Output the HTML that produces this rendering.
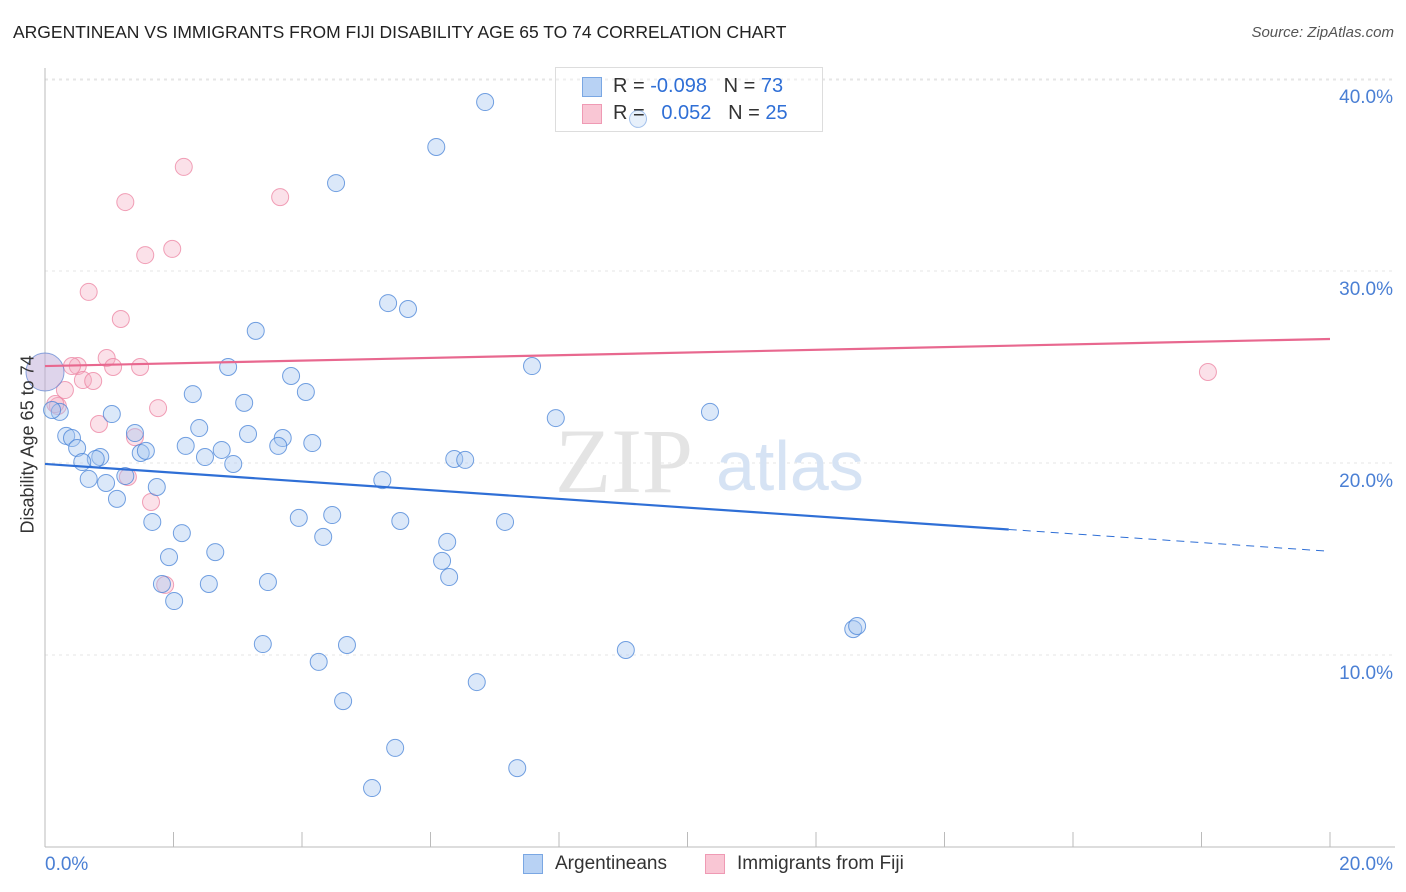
<!DOCTYPE html>
<html><head><meta charset="utf-8">
<style>
body{margin:0;background:#fff;font-family:"Liberation Sans",sans-serif;}
#wrap{position:relative;width:1406px;height:892px;overflow:hidden;}
.t{position:absolute;white-space:nowrap;}
</style></head>
<body>
<div id="wrap">
<div class="t" style="left:13px;top:22px;font-size:17.5px;color:#222;">ARGENTINEAN VS IMMIGRANTS FROM FIJI DISABILITY AGE 65 TO 74 CORRELATION CHART</div>
<div class="t" style="right:12px;top:24px;font-size:15px;color:#555;font-style:italic;">Source: ZipAtlas.com</div>
<svg id="svg" width="1406" height="892" style="position:absolute;left:0;top:0"></svg>
</div>
<script>
const xTicks=[0,2,4,6,8,10,12,14,16,18,20];
const yTicks=[10,20,30,40];
const blueX=[6.85,6.09,4.53,9.23,5.34,5.65,3.28,2.85,7.58,3.83,4.06,2.30,3.10,1.04,7.95,10.35,0.23,0.11,0.33,0.42,2.40,1.40,3.16,3.70,0.50,2.19,2.75,3.63,4.16,0.86,0.79,1.49,1.57,2.49,2.93,0.58,6.37,6.54,1.25,0.68,0.95,1.74,1.12,5.25,1.67,3.95,4.47,5.53,7.16,2.13,4.33,6.26,2.65,1.93,6.18,6.29,1.82,3.47,2.55,2.01,12.58,12.64,3.39,4.70,9.04,4.26,6.72,4.64,5.45,7.35,5.09];
const blueY=[38.8,36.46,34.58,37.92,28.33,28.02,26.88,25.0,25.05,24.53,23.7,23.59,23.13,22.55,22.34,22.66,22.66,22.76,21.41,21.30,21.82,21.56,21.51,21.30,20.78,20.89,20.68,20.89,21.04,20.31,20.21,20.52,20.63,20.31,19.95,20.05,20.21,20.16,19.32,19.17,18.96,18.75,18.13,19.11,16.93,17.14,17.29,16.98,16.93,16.35,16.15,15.89,15.36,15.10,14.90,14.06,13.70,13.80,13.70,12.81,11.35,11.51,10.57,10.52,10.26,9.64,8.59,7.60,5.16,4.11,3.07];
const pinkX=[2.16,1.25,3.66,1.98,1.56,0.68,1.18,0.96,0.51,0.42,1.48,1.06,0.59,0.75,0.31,1.76,0.20,0.16,0.84,1.40,1.29,1.65,1.87,18.10];
const pinkY=[35.42,33.59,33.85,31.15,30.83,28.91,27.50,25.47,25.05,25.05,25.0,25.0,24.32,24.27,23.80,22.86,22.97,23.07,22.03,21.35,19.27,17.97,13.65,24.74];
const bigPoint=[0,24.74];
const blueTrend=[19.95,15.40];
const pinkTrend=[25.05,26.46];
const X=v=>45+v/20*1285;
const Y=v=>847-v*19.2;
const svg=document.getElementById('svg');
const NS='http://www.w3.org/2000/svg';
function mk(t,a){const e=document.createElementNS(NS,t);for(const k in a)e.setAttribute(k,a[k]);svg.appendChild(e);return e;}
yTicks.forEach(v=>{
 const g=mk('line',{x1:45,x2:1395,y1:Y(v),y2:Y(v),stroke:'#e6e6e6','stroke-dasharray':'3,4'});
 
 
 const t=mk('text',{x:1393,y:Y(v)+24,'text-anchor':'end','font-size':19,fill:'#4a7fd4','font-family':'Liberation Sans'});
 t.textContent=v.toFixed(1)+'%';
 
 
});
const g0=mk('line',{x1:45,x2:1395,y1:80,y2:80,stroke:'#e6e6e6','stroke-dasharray':'3,4'});


const ax=mk('line',{x1:45,x2:45,y1:68,y2:847,stroke:'#bbb'});


const bx=mk('line',{x1:45,x2:1395,y1:847,y2:847,stroke:'#bbb'});


xTicks.forEach(v=>{
 const l=mk('line',{x1:X(v),x2:X(v),y1:832,y2:847,stroke:'#bbb'});
 
 
});
[[0,'start',0],[20,'end',63]].forEach(([v,a,d])=>{
 const t=mk('text',{x:X(v)+d,y:870,'text-anchor':a,'font-size':19,fill:'#4a7fd4','font-family':'Liberation Sans'});
 t.textContent=v.toFixed(1)+'%';
 
 
});
const w1=mk('text',{x:555,y:492,'font-size':92,fill:'#e4e4e4','font-family':'Liberation Serif'});w1.textContent='ZIP';


const w2=mk('text',{x:716,y:490,'font-size':70,fill:'#d6e3f4','font-family':'Liberation Sans'});w2.textContent='atlas';


pinkX.forEach((x,i)=>{
 const c=mk('circle',{cx:X(x),cy:Y(pinkY[i]),r:8.5,fill:'rgba(244,170,192,0.35)',stroke:'rgba(236,130,160,0.75)','stroke-width':1});
 
 
});
blueX.forEach((x,i)=>{
 const c=mk('circle',{cx:X(x),cy:Y(blueY[i]),r:8.5,fill:'rgba(165,198,240,0.4)',stroke:'rgba(70,130,215,0.75)','stroke-width':1});
 
 
});
const bp=mk('circle',{cx:X(bigPoint[0]),cy:Y(bigPoint[1]),r:19,fill:'rgba(190,170,215,0.5)',stroke:'rgba(90,130,210,0.7)'});


const bt=mk('line',{x1:X(0),y1:Y(blueTrend[0]),x2:X(15),y2:Y(blueTrend[0]+(blueTrend[1]-blueTrend[0])*0.75),stroke:'#2f6fd6','stroke-width':2.2});


const bd=mk('line',{x1:X(15),y1:Y(blueTrend[0]+(blueTrend[1]-blueTrend[0])*0.75),x2:X(20),y2:Y(blueTrend[1]),stroke:'#2f6fd6','stroke-width':1,'stroke-dasharray':'8,6'});


const pt=mk('line',{x1:X(0),y1:Y(pinkTrend[0]),x2:X(20),y2:Y(pinkTrend[1]),stroke:'#e8688f','stroke-width':2.2});


</script>
<div class="t" style="left:-52px;top:443px;transform:rotate(-90deg);font-size:18px;color:#333;width:160px;text-align:center;">Disability Age 65 to 74</div>
<div style="position:absolute;left:555px;top:67px;width:266px;height:63px;border:1px solid #ddd;background:rgba(255,255,255,0.35);font-size:20px;">
 <div style="position:absolute;left:26px;top:9px;width:18px;height:18px;background:#b8d2f4;border:1px solid #7aa7e3;"></div>
 <div class="t" style="left:57px;top:7px;color:#333;">R = <span style="color:#2f6fd6">-0.098</span>&nbsp;&nbsp;&nbsp;N = <span style="color:#2f6fd6">73</span></div>
 <div style="position:absolute;left:26px;top:36px;width:18px;height:18px;background:#f9c6d4;border:1px solid #ef9ab4;"></div>
 <div class="t" style="left:57px;top:34px;color:#333;">R = &nbsp;&nbsp;<span style="color:#2f6fd6">0.052</span>&nbsp;&nbsp;&nbsp;N = <span style="color:#2f6fd6">25</span></div>
</div>
<div style="position:absolute;left:523px;top:853px;font-size:19px;color:#333;">
 <div style="position:absolute;left:0;top:0;width:170px;">
  <div style="position:absolute;left:0;top:1px;width:18px;height:18px;background:#b8d2f4;border:1px solid #7aa7e3;"></div>
  <span class="t" style="left:32px;top:0;">Argentineans</span></div>
 <div style="position:absolute;left:182px;top:0;width:220px;">
  <div style="position:absolute;left:0;top:1px;width:18px;height:18px;background:#f9c6d4;border:1px solid #ef9ab4;"></div>
  <span class="t" style="left:32px;top:0;">Immigrants from Fiji</span></div>
</div>
</body></html>
